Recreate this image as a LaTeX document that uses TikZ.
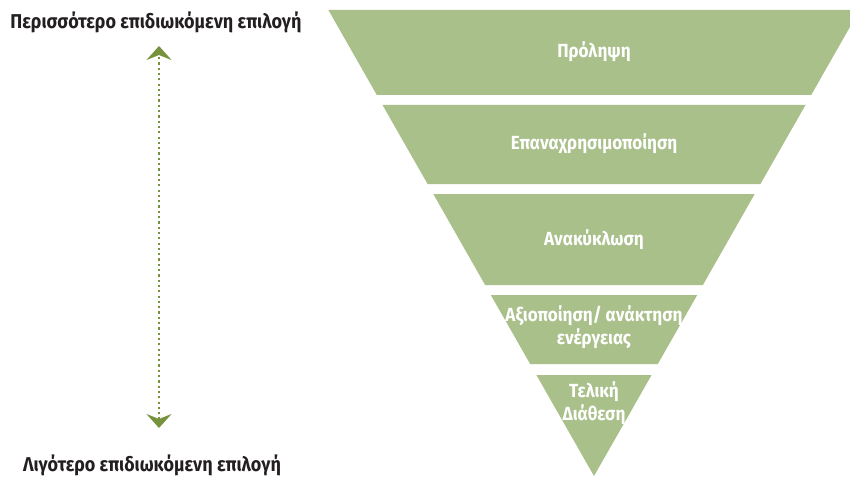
\documentclass[tikz,border=0pt]{standalone}
\usepackage{fontspec}
\setmainfont{Fira Sans}[FakeStretch=0.9]
\usetikzlibrary{arrows.meta}
\definecolor{bandgreen}{HTML}{A9C08A}
\definecolor{olive}{HTML}{76923C}
\definecolor{ink}{HTML}{231F20}
\tikzset{band/.style={fill=bandgreen,draw=none},bandtext/.style={anchor=center,inner sep=0pt,align=center,text=white,font=\fontsize{19}{23}\selectfont\bfseries},sidetext/.style={anchor=center,inner sep=0pt,text=ink,font=\fontsize{20}{23}\selectfont\bfseries},pref/.style={olive,line width=2.2pt,dash pattern=on 2.2pt off 3.1pt,{Stealth[length=14pt,width=25pt,inset=5pt]}-{Stealth[length=14pt,width=25pt,inset=5pt]}}}
\begin{document}
\begin{tikzpicture}[x=1pt,y=-1pt]
\path[use as bounding box] (0,0) rectangle (850,476);
\node[sidetext] (more) at (156,22) {Περισσότερο επιδιωκόμενη επιλογή};
\node[sidetext] (less) at (152,465) {Λιγότερο επιδιωκόμενη επιλογή};
\coordinate (arrtop) at (159,46);
\coordinate (arrbot) at (159,428);
\draw[pref] (arrbot) -- (arrtop);
\fill[band] (328.4,10) -- (859.6,10) -- (811.2,95) -- (376.8,95) -- cycle;
\node[bandtext] (prevent) at (594,52) {Πρόληψη};
\fill[band] (382.5,105) -- (805.5,105) -- (760.4,184) -- (427.6,184) -- cycle;
\node[bandtext] (reuse) at (594,144) {Επαναχρησιμοποίηση};
\fill[band] (433.3,194) -- (754.7,194) -- (702.9,285) -- (485.1,285) -- cycle;
\node[bandtext] (recycle) at (594,240) {Ανακύκλωση};
\fill[band] (490.8,295) -- (697.2,295) -- (657.8,364) -- (530.2,364) -- cycle;
\node[bandtext] (recover) at (594,327) {Αξιοποίηση/ ανάκτηση\\ενέργειας};
\fill[band] (536.4,375) -- (651.6,375) -- (594,476) -- cycle;
\node[bandtext] (disposal) at (594,403) {Τελική\\Διάθεση};
\end{tikzpicture}
\end{document}
